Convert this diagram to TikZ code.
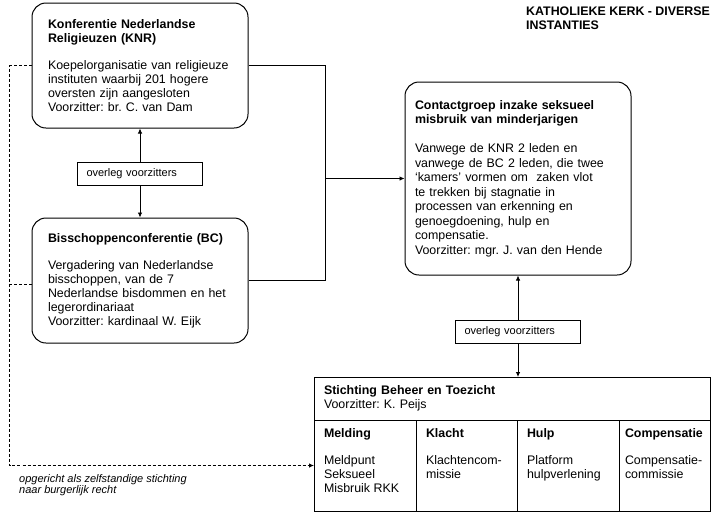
\documentclass[tikz,border=0pt]{standalone}
\usepackage{fontspec}
\setmainfont{Liberation Sans}
\usetikzlibrary{positioning}
\usetikzlibrary{arrows.meta}
\frenchspacing

\begin{document}
\begin{tikzpicture}[x=1pt, y=-1pt, font=\fontsize{12.4}{14}\selectfont,
    >={Latex[length=5pt,width=4.5pt]},
    orgbox/.style={draw, line width=1pt, rounded corners=14pt, align=left, inner xsep=16pt},
    overleg/.style={draw, line width=0.9pt, font=\fontsize{11}{13}\selectfont, minimum height=23pt, text width=107pt, inner xsep=9pt, align=left},
    colbox/.style={draw, line width=1pt, outer sep=0pt, minimum height=91pt, inner sep=0pt},
    verbinding/.style={line width=0.8pt},
    stippel/.style={line width=0.8pt, dash pattern=on 3pt off 2pt}]
\useasboundingbox (0,0) rectangle (711,512);

\node[anchor=north west, inner sep=0pt, align=left, font=\fontsize{12.4}{14}\selectfont\bfseries] (titel) at (526,6.5) {KATHOLIEKE KERK - DIVERSE\\INSTANTIES};

\node[orgbox, minimum height=125pt, text width=184pt] (knr) at (140,65.5) {\textbf{Konferentie Nederlandse}\\\textbf{Religieuzen (KNR)}\\[13pt]Koepelorganisatie van religieuze\\instituten waarbij 201 hogere\\oversten zijn aangesloten\\Voorzitter: br. C. van Dam};
\node[orgbox, minimum height=125pt, text width=184pt] (bc) at (140,280.5) {\textbf{Bisschoppenconferentie (BC)}\\[13pt]Vergadering van Nederlandse\\bisschoppen, van de 7\\Nederlandse bisdommen en het\\legerordinariaat\\Voorzitter: kardinaal W. Eijk};
\node[overleg] (overleg1) at (140,173.5) {overleg voorzitters};

\node[orgbox, minimum height=193pt, text width=206pt, inner xsep=10pt, font=\fontsize{12.4}{14.5}\selectfont] (contact) at (518,178.5) {\textbf{Contactgroep inzake seksueel}\\\textbf{misbruik van minderjarigen}\\[14.5pt]Vanwege de KNR 2 leden en\\vanwege de BC 2 leden, die twee\\`kamers' vormen om\ \ zaken vlot\\te trekken bij stagnatie in\\processen van erkenning en\\genoegdoening, hulp en\\compensatie.\\Voorzitter: mgr. J. van den Hende};
\node[overleg] (overleg2) at (518,331.5) {overleg voorzitters};

\node[draw, line width=1pt, outer sep=0pt, minimum height=43pt, text width=376pt, inner xsep=10pt, align=left] (stichting) at (512,398.5) {\textbf{Stichting Beheer en Toezicht}\\Voorzitter: K. Peijs};
\node[colbox, minimum width=102pt, anchor=north west] (melding) at (stichting.south west) {\parbox[t][74pt][t]{82pt}{\raggedright\textbf{Melding}\\[13pt]Meldpunt\\Seksueel\\Misbruik RKK}};
\node[colbox, minimum width=101pt, right=0pt of melding] (klacht) {\parbox[t][74pt][t]{81pt}{\raggedright\textbf{Klacht}\\[13pt]Klachtencom-\\missie}};
\node[colbox, minimum width=102pt, right=0pt of klacht] (hulp) {\parbox[t][74pt][t]{82pt}{\raggedright\textbf{Hulp}\\[13pt]Platform\\hulpverlening}};
\node[colbox, minimum width=91pt, right=0pt of hulp] (comp) {\parbox[t][74pt][t]{79pt}{\raggedright\textbf{Compensatie}\\[13pt]Compensatie-\\commissie}};

\node[anchor=north west, inner sep=0pt, align=left, font=\fontsize{11}{11.5}\selectfont\itshape] (noot) at (19,474) {opgericht als zelfstandige stichting\\naar burgerlijk recht};

\draw[verbinding,->] (overleg1) -- (knr);
\draw[verbinding,->] (overleg1) -- (bc);
\draw[verbinding,->] (overleg2) -- (contact);
\draw[verbinding,->] (overleg2) -- (overleg2 |- stichting.north);

\draw[verbinding] (knr.east) -- ++(77,0) coordinate (knik) -- (knik |- bc.east) -- (bc.east);
\draw[verbinding,->] (knik |- contact.west) -- (contact.west);

\draw[stippel,->] (knr.west) -- ++(-22,0) coordinate (dknik) -- (dknik |- melding.west) -- (melding.west);
\draw[stippel] ([yshift=-4pt]bc.west) -- ([yshift=-4pt]bc.west -| dknik);
\end{tikzpicture}
\end{document}
